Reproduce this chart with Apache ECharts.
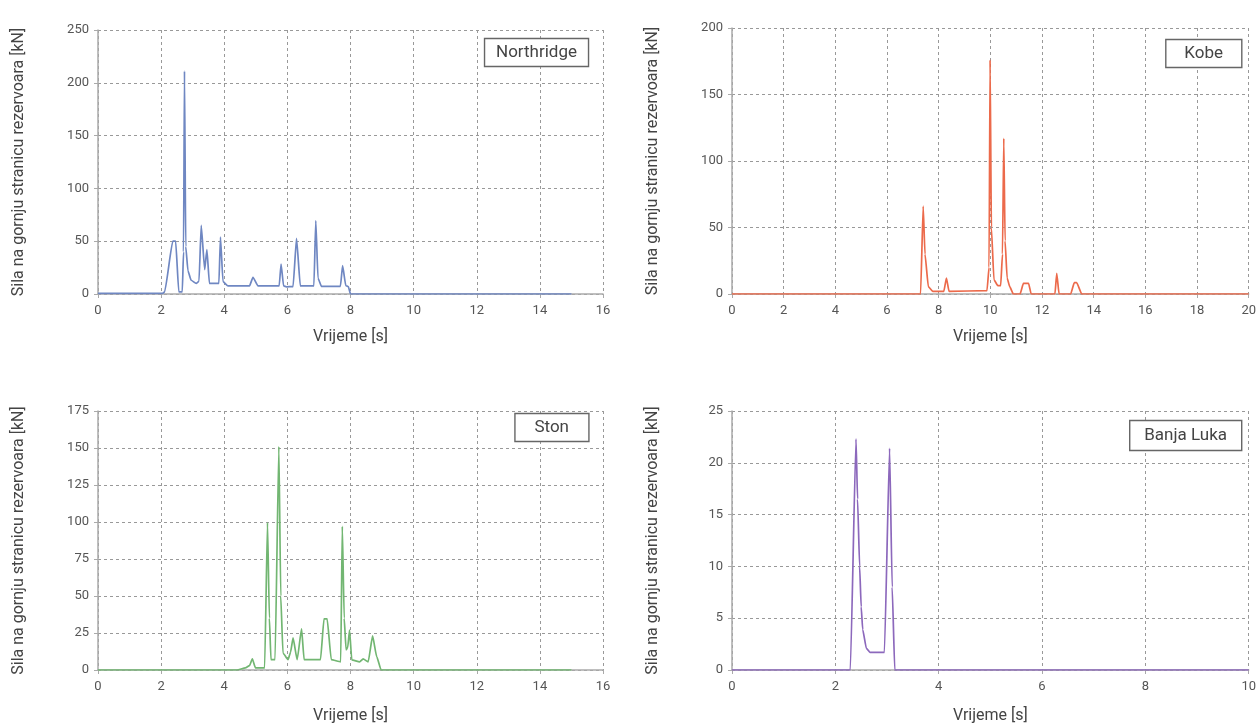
<!DOCTYPE html>
<html>
<head>
<meta charset="utf-8">
<script src="https://cdn.jsdelivr.net/npm/echarts@6/dist/echarts.min.js"></script>
<style>
html,body{margin:0;padding:0;background:#fff;}
#c{width:1259px;height:726px;}
</style>
</head>
<body>
<div id="c"></div>
<script>
// ---- data (time [s], force [kN]) ----
const northridgeT = [0, 2.05, 2.11, 2.37, 2.46, 2.56, 2.67, 2.71, 2.74, 2.78, 2.85, 2.95, 3.11, 3.20, 3.27, 3.38, 3.45, 3.53, 3.83, 3.88, 3.96, 4.12, 4.80, 4.91, 5.07, 5.74, 5.80, 5.88, 5.97, 6.18, 6.29, 6.41, 6.84, 6.90, 6.97, 7.08, 7.68, 7.75, 7.85, 7.93, 8.00, 15];
const northridgeF = [0.5, 0.5, 2, 50, 50, 2, 2, 40, 211, 45, 22, 13, 10, 12, 65, 23, 42, 10, 10, 54, 11.7, 7.6, 7.6, 15.8, 7.6, 7.6, 28.4, 7.6, 6.8, 7, 52.7, 7.6, 7.6, 69.4, 15, 7.2, 7.2, 26.8, 8, 7, 0, 0];

const kobeT = [0, 7.30, 7.40, 7.47, 7.60, 7.77, 8.20, 8.30, 8.40, 9.87, 9.95, 9.99, 10.04, 10.14, 10.29, 10.40, 10.47, 10.52, 10.57, 10.65, 10.75, 10.89, 11.15, 11.28, 11.48, 11.58, 12.50, 12.57, 12.66, 13.11, 13.25, 13.34, 13.54, 20];
const kobeF = [0, 0, 66, 30, 5.5, 2, 2, 12, 2, 2.5, 20, 176, 50, 10.6, 6.3, 6.3, 30, 117, 40, 12, 5.5, 0, 0, 8, 8, 0, 0, 15.6, 0, 0, 8.5, 8.5, 0, 0];

const stonT = [0, 4.40, 4.67, 4.80, 4.89, 4.99, 5.28, 5.37, 5.43, 5.48, 5.61, 5.73, 5.79, 5.86, 6.02, 6.10, 6.18, 6.31, 6.45, 6.53, 7.05, 7.16, 7.26, 7.39, 7.69, 7.74, 7.80, 7.86, 7.91, 7.97, 8.04, 8.29, 8.40, 8.56, 8.70, 8.83, 8.97, 15];
const stonF = [0, 0, 1.4, 3, 7.5, 1.4, 1.4, 99.6, 35, 7, 7, 151, 50, 11.5, 7, 12, 21.7, 7, 27.8, 7, 7, 34.5, 34.5, 7, 5.5, 97, 35, 13.6, 15, 27, 6.8, 5.5, 7.5, 5.5, 23, 9, 0, 0];

const banjaLukaT = [0, 2.29, 2.40, 2.43, 2.47, 2.50, 2.53, 2.60, 2.67, 2.95, 3.05, 3.10, 3.15, 10];
const banjaLukaF = [0, 0, 22.3, 16.5, 10, 6.1, 3.9, 2.1, 1.7, 1.7, 21.4, 8, 0, 0];

const panelNames = ['Northridge', 'Kobe', 'Ston', 'Banja Luka'];
const xMax = [16, 20, 16, 10];
const xInterval = [2, 2, 2, 2];
const yMax = [250, 200, 175, 25];
const yInterval = [50, 50, 25, 5];
const colors = ['#6f87c2', '#ec6a4b', '#72b672', '#8c68bc'];
const yName = 'Sila na gornju stranicu rezervoara [kN]';
const xName = 'Vrijeme [s]';

const seriesT = [northridgeT, kobeT, stonT, banjaLukaT];
const seriesF = [northridgeF, kobeF, stonF, banjaLukaF];

const FONT = 'Roboto';
const grids = [
  {left: 98, top: 30, width: 505, height: 264},
  {left: 732, top: 28, width: 519, height: 266},
  {left: 98, top: 411, width: 505, height: 259},
  {left: 732, top: 411, width: 519, height: 259}
];
const titlePos = [
  {right: 670, top: 38, padding: [6, 12]},
  {right: 17, top: 39, padding: [6, 19]},
  {right: 670, top: 413, padding: [6, 20]},
  {right: 17, top: 420, padding: [7, 15]}
];
const xNameGap = [35, 35, 38, 38];

const option = {
  animation: false,
  backgroundColor: '#fff',
  textStyle: {fontFamily: FONT},
  grid: grids.map(g => Object.assign({containLabel: false}, g)),
  title: panelNames.map((n, i) => Object.assign({
    text: n,
    borderColor: '#666',
    borderWidth: 1.4,
    backgroundColor: '#fff',
    textStyle: {fontFamily: FONT, fontSize: 17, fontWeight: 'normal', color: '#444'}
  }, titlePos[i])),
  xAxis: grids.map((g, i) => ({
    type: 'value', gridIndex: i, min: 0, max: xMax[i], interval: xInterval[i],
    name: xName, nameLocation: 'middle', nameGap: xNameGap[i],
    nameTextStyle: {fontFamily: FONT, fontSize: 16, color: '#444'},
    axisLine: {show: true, onZero: false, lineStyle: {color: '#aaa', width: 1.5}},
    axisTick: {show: true, length: 4, lineStyle: {color: '#aaa'}},
    axisLabel: {fontFamily: FONT, fontSize: 13, color: '#555', margin: 10},
    splitLine: {show: true, lineStyle: {color: '#999', type: [3, 3], width: 1}}
  })),
  yAxis: grids.map((g, i) => ({
    type: 'value', gridIndex: i, min: 0, max: yMax[i], interval: yInterval[i],
    name: yName, nameLocation: 'middle', nameGap: 71, nameRotate: 90,
    nameTextStyle: {fontFamily: FONT, fontSize: 16, color: '#444'},
    axisLine: {show: true, lineStyle: {color: '#aaa', width: 1.5}},
    axisTick: {show: true, length: 4, lineStyle: {color: '#aaa'}},
    axisLabel: {fontFamily: FONT, fontSize: 13, color: '#555', margin: 9},
    splitLine: {show: true, lineStyle: {color: '#999', type: [3, 3], width: 1}}
  })),
  series: seriesT.map((ts, i) => ({
    type: 'line', xAxisIndex: i, yAxisIndex: i,
    data: ts.map((t, k) => [t, seriesF[i][k]]),
    symbol: 'none', smooth: 0.15, smoothMonotone: 'x',
    lineStyle: {color: colors[i], width: 1.7},
    z: 3
  }))
};

const chart = echarts.init(document.getElementById('c'), null, {renderer: 'canvas'});
chart.setOption(option);
</script>
</body>
</html>
